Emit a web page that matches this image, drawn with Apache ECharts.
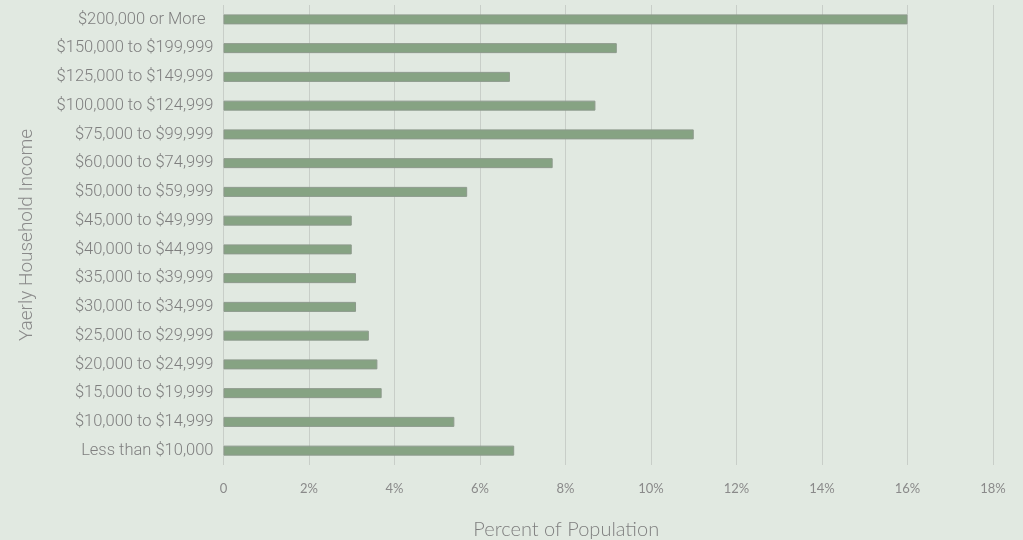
<!DOCTYPE html>
<html>
<head>
<meta charset="utf-8">
<style>
  html, body { margin: 0; padding: 0; background: #e1e9e1; }
  #chart { width: 1023px; height: 540px; }
</style>
<script src="https://cdn.jsdelivr.net/npm/echarts@6/dist/echarts.min.js"></script>
</head>
<body>
<div id="chart"></div>
<script>
// bottom to top, as ECharts draws category axes on y
const categories = [
  'Less than $10,000',
  '$10,000 to $14,999',
  '$15,000 to $19,999',
  '$20,000 to $24,999',
  '$25,000 to $29,999',
  '$30,000 to $34,999',
  '$35,000 to $39,999',
  '$40,000 to $44,999',
  '$45,000 to $49,999',
  '$50,000 to $59,999',
  '$60,000 to $74,999',
  '$75,000 to $99,999',
  '$100,000 to $124,999',
  '$125,000 to $149,999',
  '$150,000 to $199,999',
  '$200,000 or More  '
]
const percent = [6.8, 5.4, 3.7, 3.6, 3.4, 3.1, 3.1, 3.0, 3.0, 5.7, 7.7, 11.0, 8.7, 6.7, 9.2, 16.0]

const chart = echarts.init(document.getElementById('chart'))

chart.setOption({
  backgroundColor: '#e1e9e1',
  animation: false,
  grid: { left: 223.5, right: 30, top: 5, bottom: 75, outerBoundsMode: 'none', containLabel: false },
  xAxis: {
    type: 'value',
    min: 0,
    max: 18,
    interval: 2,
    name: 'Percent of Population',
    nameLocation: 'middle',
    nameGap: 55,
    nameTextStyle: {
      fontFamily: 'Lato', fontWeight: 300, fontSize: 20, color: '#7f7f7f',
      padding: [0, 84, 0, 0]
    },
    axisLine: { show: false },
    axisTick: { show: false },
    axisLabel: {
      fontFamily: 'Lato',
      fontSize: 13,
      color: '#8a8a8a',
      margin: 17,
      formatter: v => v === 0 ? '0' : v + '%'
    },
    splitLine: { show: true, lineStyle: { color: '#c8cec8', width: 1 } }
  },
  yAxis: {
    type: 'category',
    data: categories,
    name: 'Yaerly Household Income',
    nameLocation: 'middle',
    nameGap: 187,
    nameTextStyle: { fontFamily: 'Roboto', fontWeight: 300, fontSize: 19, color: '#8a8a8a' },
    axisLine: { show: false },
    axisTick: { show: false },
    axisLabel: {
      fontFamily: 'Roboto',
      fontWeight: 300,
      fontSize: 16.5,
      color: '#7f7f7f',
      margin: 10
    },
    splitLine: { show: false }
  },
  series: [{
    type: 'bar',
    data: percent,
    barWidth: 10,
    itemStyle: {
      color: '#86a383',
      borderColor: '#8d9a8c',
      borderWidth: 1
    }
  }]
})
</script>
</body>
</html>
